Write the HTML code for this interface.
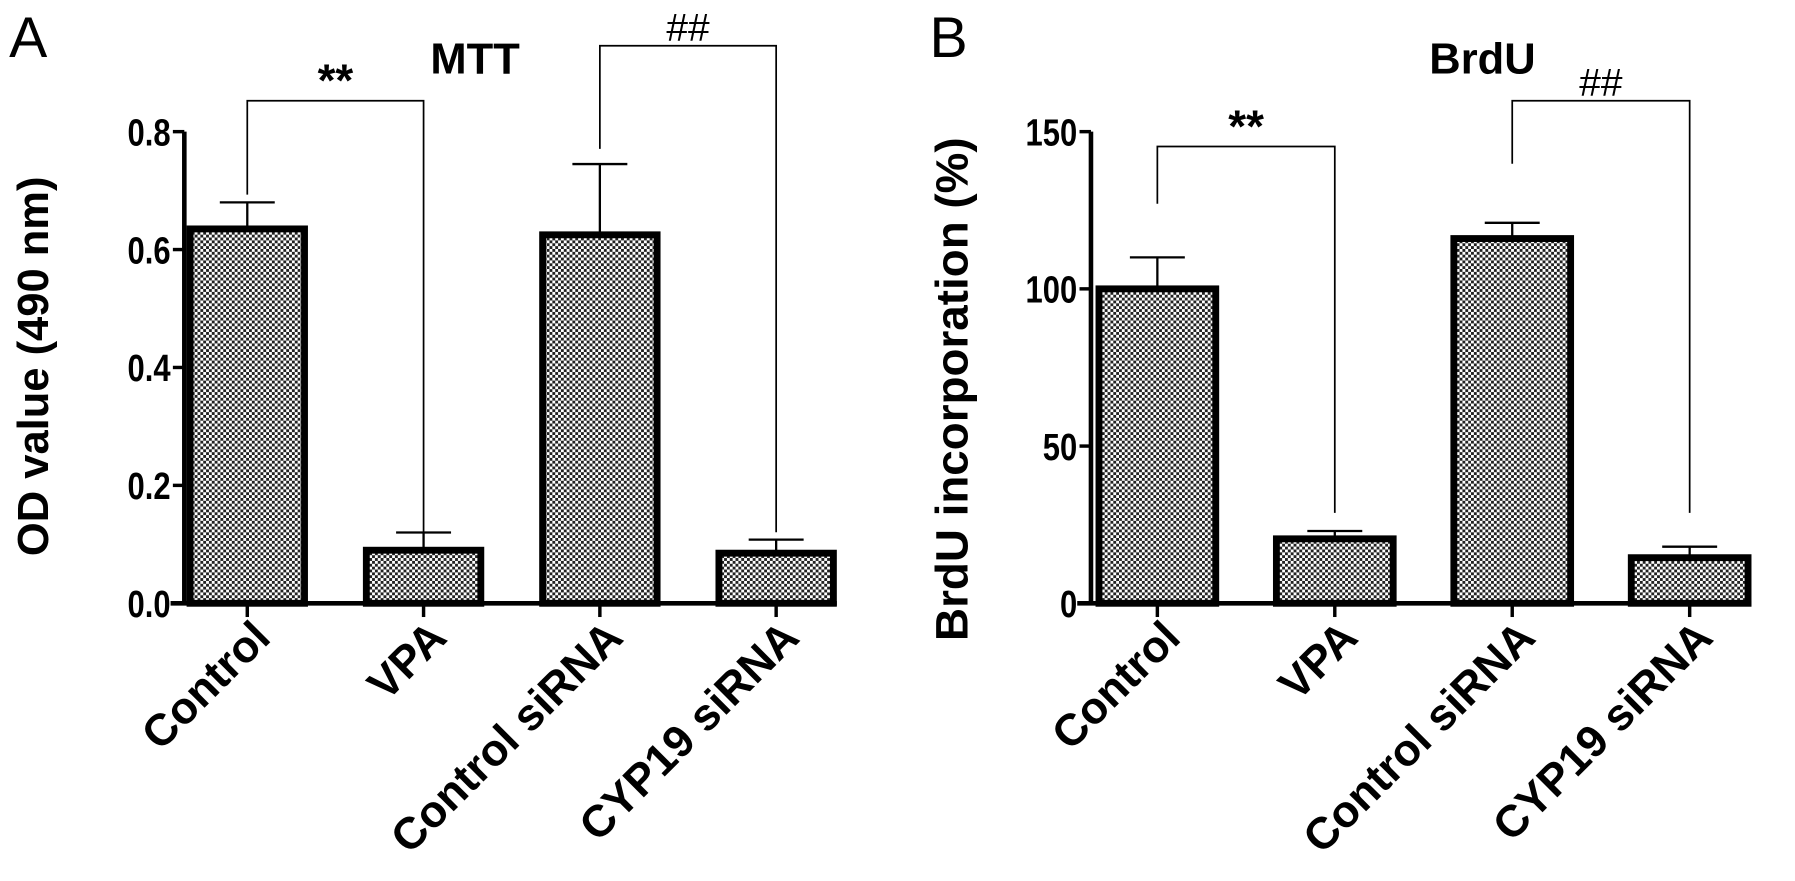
<!DOCTYPE html>
<html><head><meta charset="utf-8"><style>
html,body{margin:0;padding:0;background:#fff;}
svg{display:block;font-family:"Liberation Sans",Arial,sans-serif;}
</style></head><body>
<svg id="fig" width="1795" height="881" viewBox="0 0 1568 769.6">
<defs>
<pattern id="chk" width="5" height="5" patternUnits="userSpaceOnUse">
<rect width="5" height="5" fill="#fff"/><rect width="2.5" height="2.5" fill="#222"/><rect x="2.5" y="2.5" width="2.5" height="2.5" fill="#222"/>
</pattern>
</defs>
</svg>
<script>
const categories = ["Control","VPA","Control siRNA","CYP19 siRNA"];
const mttValues = [0.635, 0.09, 0.625, 0.085];
const mttErrors = [0.045, 0.03, 0.12, 0.023];
const mttTicks = [0, 0.2, 0.4, 0.6, 0.8];
const mttTickLabels = ["0.0","0.2","0.4","0.6","0.8"];
const brduValues = [100, 20.5, 116, 14.5];
const brduErrors = [10, 2.5, 5, 3.5];
const brduTicks = [0, 50, 100, 150];
const brduTickLabels = ["0","50","100","150"];

const svg = document.getElementById('fig');
const NS = 'http://www.w3.org/2000/svg';
function mk(tag, attrs, parent, text){
  const e = document.createElementNS(NS, tag);
  for (const k in attrs) e.setAttribute(k, attrs[k]);
  if (text !== undefined) e.textContent = text;
  (parent||svg).appendChild(e); return e;
}

function panel(o){
  const g = mk('g', {});
  
  
  const y = v => o.y0 - (v - 0) / o.max * (o.y0 - o.yTop);
  const x = i => o.x0 + i * o.step;
  const L = mk('text', {x:o.letterX, y:50, 'font-size':50}, g, o.letter);
  
  
  const T = mk('text', {x:o.titleX, y:64, 'font-size':38, 'font-weight':'bold', 'text-anchor':'middle'}, g, o.title);
  
  
  const YT = mk('text', {transform:`translate(${o.ytX},${o.ytY}) rotate(-90)`, 'font-size':o.ytSize, 'font-weight':'bold', 'text-anchor':'middle'}, g, o.ytitle);
  
  
  o.values.forEach((v, i) => {
    const cx = x(i), w = o.barW;
    const ey = y(v + o.errors[i]);
    const el = mk('line', {x1:cx, x2:cx, y1:y(v), y2:ey, stroke:'#000', 'stroke-width':2}, g);
    
    
    const ec = mk('line', {x1:cx-24, x2:cx+24, y1:ey, y2:ey, stroke:'#000', 'stroke-width':2}, g);
    
    
    const r = mk('rect', {x:cx-w/2, y:y(v), width:w, height:o.y0 - y(v), fill:'url(#chk)', stroke:'#000', 'stroke-width':6}, g);
    
    
    const tk = mk('line', {x1:cx, x2:cx, y1:o.y0, y2:o.y0+12, stroke:'#000', 'stroke-width':3}, g);
    
    
    const lb = mk('text', {transform:`translate(${cx+22},${o.y0+32}) rotate(-45)`, 'font-size':39, 'font-weight':'bold', 'text-anchor':'end'}, g, categories[i]);
    
    
  });
  const ya = mk('line', {x1:o.axX, x2:o.axX, y1:o.yTop, y2:o.y0, stroke:'#000', 'stroke-width':4}, g);
  
  
  const xa = mk('line', {x1:o.axX-12, x2:x(3)+o.barW/2+3, y1:o.y0, y2:o.y0, stroke:'#000', 'stroke-width':4}, g);
  
  
  o.ticks.forEach((t, i) => {
    const tl = mk('line', {x1:o.axX-10, x2:o.axX, y1:y(t), y2:y(t), stroke:'#000', 'stroke-width':3}, g);
    
    
    const tt = mk('text', {transform:`translate(${o.axX-12},${y(t)+12}) scale(0.82,1)`, 'font-size':33, 'font-weight':'bold', 'text-anchor':'end'}, g, o.tickLabels[i]);
    
    
  });
  o.brackets.forEach((b, k) => {
    const x1 = x(b.a), x2 = x(b.b);
    const p = mk('path', {d:`M${x1},${b.l} V${b.y} H${x2} V${b.r}`, fill:'none', stroke:'#000', 'stroke-width':1.5}, g);
    
    
    const s = mk('text', {x:(x1+x2)/2, y:b.y-4, 'font-size':b.sym==='**'?40:34, 'font-weight':b.sym==='**'?'bold':'normal', 'text-anchor':'middle'}, g, b.sym);
    
    
  });
}

panel({name:'panel-a-mtt', letter:'A', letterX:8, title:'MTT', titleX:415, ytitle:'OD value (490 nm)', ytX:42, ytY:320, ytSize:38,
  values:mttValues, errors:mttErrors, ticks:mttTicks, tickLabels:mttTickLabels, max:0.8,
  y0:527, yTop:115, axX:161, x0:216, step:154, barW:100,
  brackets:[{a:0,b:1,y:88,l:170,r:465,sym:'**'},{a:2,b:3,y:40,l:130,r:465,sym:'##'}]});
panel({name:'panel-b-brdu', letter:'B', letterX:812, title:'BrdU', titleX:1295, ytitle:'BrdU incorporation (%)', ytX:845, ytY:340, ytSize:40,
  values:brduValues, errors:brduErrors, ticks:brduTicks, tickLabels:brduTickLabels, max:150,
  y0:527, yTop:115, axX:953, x0:1011, step:155, barW:102,
  brackets:[{a:0,b:1,y:128,l:178,r:448,sym:'**'},{a:2,b:3,y:88,l:143,r:448,sym:'##'}]});
</script>
</body></html>
